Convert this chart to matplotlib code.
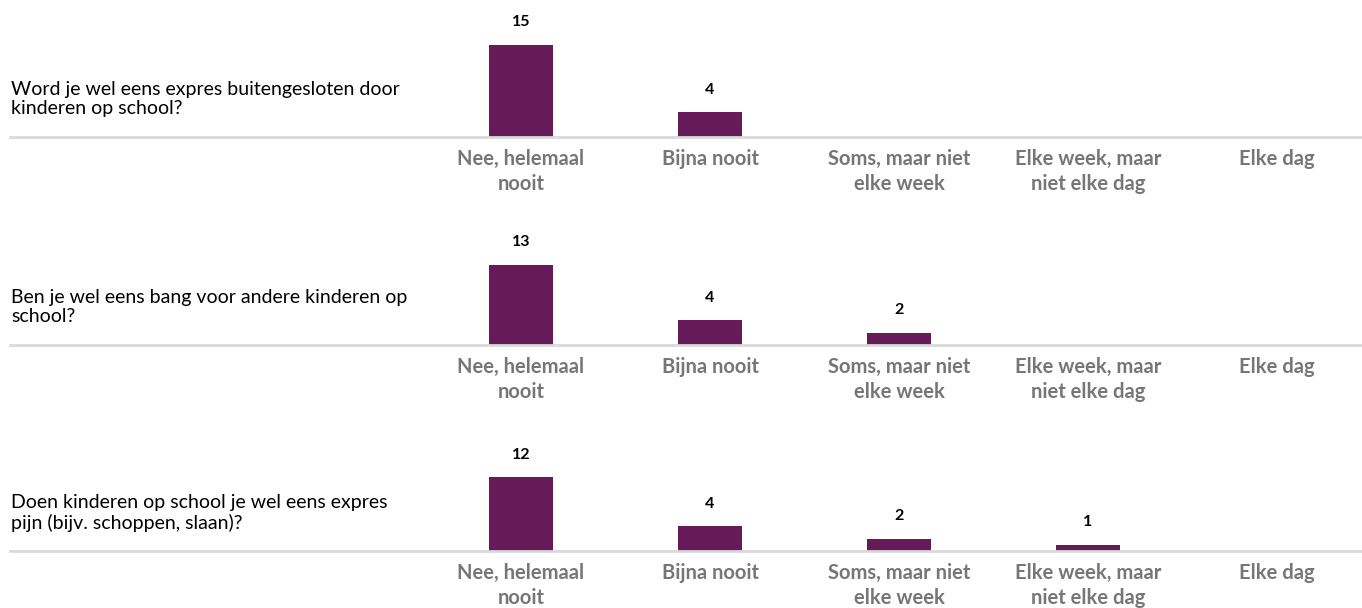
import matplotlib
matplotlib.use("Agg")
import matplotlib.pyplot as plt

# answer categories (x axis of every panel)
categories = ["Nee, helemaal\nnooit", "Bijna nooit", "Soms, maar niet\nelke week",
              "Elke week, maar\nniet elke dag", "Elke dag"]

questions = [
    "Word je wel eens expres buitengesloten door\nkinderen op school?",
    "Ben je wel eens bang voor andere kinderen op\nschool?",
    "Doen kinderen op school je wel eens expres\npijn (bijv. schoppen, slaan)?",
]

buitengesloten = [15, 4, 0, 0, 0]
bang = [13, 4, 2, 0, 0]
pijn = [12, 4, 2, 1, 0]
series = [buitengesloten, bang, pijn]

W, H = 1362, 608
BAR = "#661b58"
GRID = "#d9d9d9"
TICK = "#767676"

plt.rcParams["font.family"] = ["Lato", "DejaVu Sans"]

fig = plt.figure(figsize=(W / 100, H / 100), dpi=100)

baselines = [137, 345, 551]   # pixel row of each panel's axis line
panel_h = 130                 # pixel height of each panel
px_per_unit = 6.13
x0, x1 = 10, 1362
# category i sits at pixel 521 + 189 * i
xlo = (x0 - 521) / 189
xhi = (x1 - 521) / 189

for q, vals, base in zip(questions, series, baselines):
    ax = fig.add_axes([x0 / W, 1 - base / H, (x1 - x0) / W, panel_h / H])
    xs = list(range(len(categories)))
    bars = ax.bar(xs, vals, width=0.34, color=BAR, zorder=2)
    ax.set_xlim(xlo, xhi)
    ax.set_ylim(0, panel_h / px_per_unit)
    for b, v in zip(bars, vals):
        if v > 0:
            ax.annotate(str(v), (b.get_x() + b.get_width() / 2, v),
                        xytext=(0, 16.5), textcoords="offset points",
                        ha="center", va="center", fontsize=11.5,
                        fontweight="bold", color="black")
    for s in ["top", "right", "left"]:
        ax.spines[s].set_visible(False)
    ax.spines["bottom"].set_color(GRID)
    ax.spines["bottom"].set_linewidth(2)
    ax.set_yticks([])
    ax.set_xticks(xs)
    ax.set_xticklabels(categories, fontsize=14.5, fontweight="bold",
                       color=TICK, linespacing=1.35)
    ax.tick_params(axis="x", length=0, pad=8.5)
    ax.patch.set_alpha(0)
    fig.text(11 / W, 1 - (base - 38) / H, q, ha="left", va="center",
             fontsize=14, color="black", linespacing=1.2)

fig.savefig("out.png", dpi=100)
